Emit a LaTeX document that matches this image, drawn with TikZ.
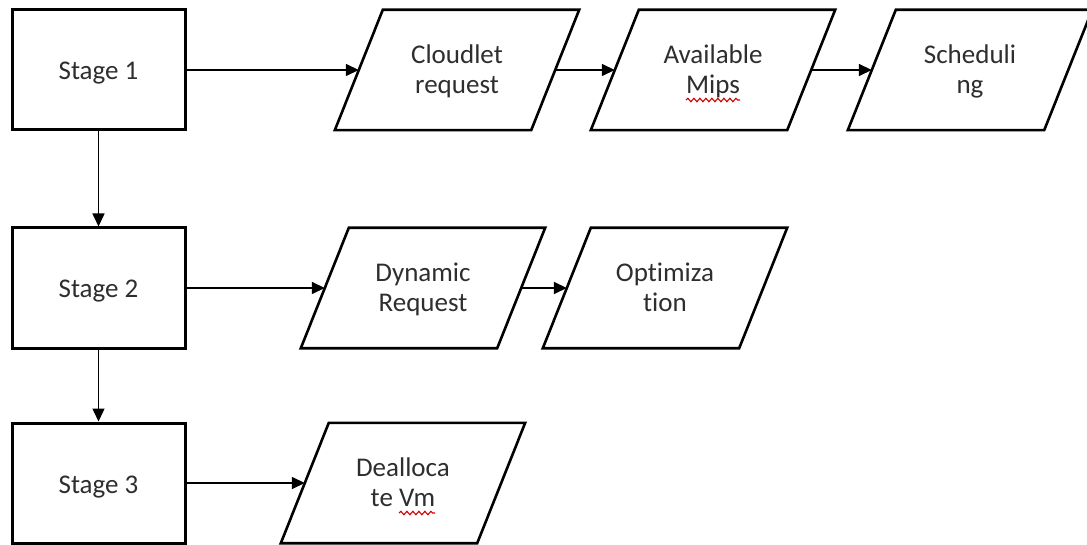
\documentclass[tikz,border=0pt]{standalone}
\usepackage{fontspec}
\setmainfont{Carlito}[Ligatures=NoCommon]
\usetikzlibrary{arrows.meta,decorations.pathmorphing}
\begin{document}
\begin{tikzpicture}[x=1pt,y=-1pt,
  every node/.style={font=\fontsize{27}{30}\selectfont, text=black!82},
  stagebox/.style={draw, line width=3pt, minimum width=173pt, minimum height=120pt,
                   inner sep=0pt, text height=20pt, text depth=0pt},
  datanode/.style={minimum width=196pt, minimum height=120pt, inner sep=0pt, align=center,
                   text height=49pt, text depth=2pt},
  dataedge/.style={line width=2.6pt, line join=miter},
  flow/.style={line width=1.5pt, -{Triangle[length=13pt,width=12pt]}},
  spell/.style={draw=red!85!black, line width=1.1pt, decorate,
                decoration={snake, amplitude=1.7pt, segment length=6pt}}
]
\useasboundingbox (0,0) rectangle (1087,545);

% process stages
\node[stagebox] (s1) at (98.5,70)  {Stage 1};
\node[stagebox] (s2) at (98.5,288) {Stage 2};
\node[stagebox] (s3) at (98.5,483) {Stage 3};

% data steps (parallelograms drawn round the nodes below)
\node[datanode] (cr) at (457,70)  {Cloudlet\\request};
\node[datanode] (am) at (713,70)  {Available\\Mips};
\node[datanode] (sc) at (970,70)  {Scheduli\\ng};
\node[datanode] (dr) at (423,288) {Dynamic\\Request};
\node[datanode] (op) at (665,288) {Optimiza\\tion};
\node[datanode] (dv) at (403,483) {Dealloca\\te Vm};

\foreach \n in {cr,am,sc,dr,op,dv}
  \draw[dataedge] ([xshift=24pt]\n.north west) -- ([xshift=24pt]\n.north east)
                  -- ([xshift=-24pt]\n.south east) -- ([xshift=-24pt]\n.south west) -- cycle;

% spelling marks under two words
\draw[spell] ([shift={(-27,30)}]am.center) -- ([shift={(27,30)}]am.center);
\draw[spell] ([shift={(-4,30)}]dv.center) -- ([shift={(32,30)}]dv.center);

% flow between stages
\draw[flow] (s1) -- (s2);
\draw[flow] (s2) -- (s3);

% flow along each stage
\draw[flow] (s1.east) -- (cr.west);
\draw[flow] (cr.east) -- (am.west);
\draw[flow] (am.east) -- (sc.west);
\draw[flow] (s2.east) -- (dr.west);
\draw[flow] (dr.east) -- (op.west);
\draw[flow] (s3.east) -- (dv.west);
\end{tikzpicture}
\end{document}
